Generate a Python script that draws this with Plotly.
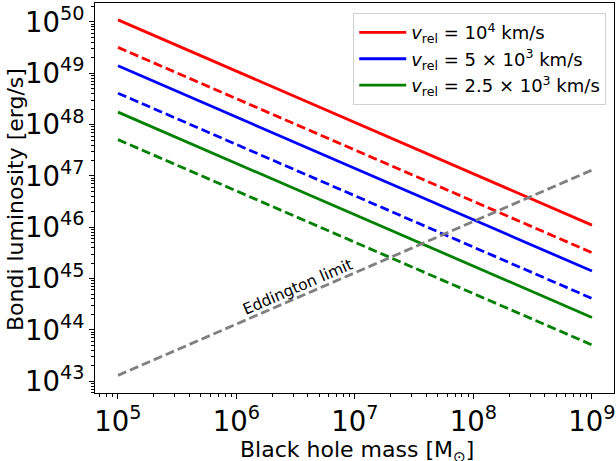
import plotly.graph_objects as go

# Data
mass = [1e5, 1e9]  # black hole mass [M_sun]
red_solid = [1.1e50, 1.1e46]
red_dashed = [3.2e49, 3.2e45]
blue_solid = [1.4e49, 1.4e45]
blue_dashed = [4.1e48, 4.1e44]
green_solid = [1.75e48, 1.75e44]
green_dashed = [5.1e47, 5.1e43]
eddington = [1.3e43, 1.3e47]

labels = [
    "<i>v</i><sub>rel</sub> = 10<sup>4</sup> km/s",
    "<i>v</i><sub>rel</sub> = 5 × 10<sup>3</sup> km/s",
    "<i>v</i><sub>rel</sub> = 2.5 × 10<sup>3</sup> km/s",
]

FONT = "DejaVu Sans"
LW = 2.8
DASH = "9px,4px"

fig = go.Figure()
series = [
    (red_solid, red_dashed, "red", labels[0]),
    (blue_solid, blue_dashed, "blue", labels[1]),
    (green_solid, green_dashed, "green", labels[2]),
]
for solid, dashed, col, lab in series:
    fig.add_trace(go.Scatter(x=mass, y=solid, mode="lines", name=lab,
                             line=dict(color=col, width=LW)))
for solid, dashed, col, lab in series:
    fig.add_trace(go.Scatter(x=mass, y=dashed, mode="lines", showlegend=False,
                             line=dict(color=col, width=LW, dash=DASH)))
fig.add_trace(go.Scatter(x=mass, y=eddington, mode="lines", showlegend=False,
                         line=dict(color="gray", width=LW, dash=DASH)))

fig.add_annotation(x=6.52, y=44.83, xref="x", yref="y", text="Eddington limit",
                   showarrow=False, textangle=-23.4,
                   font=dict(family=FONT, size=15.5, color="black"))

# axis titles as annotations (exact placement)
fig.add_annotation(x=0.505, y=-0.149, xref="paper", yref="paper",
                   text="Black hole mass [M<sub>⊙</sub>]", showarrow=False,
                   xanchor="center", yanchor="middle",
                   font=dict(family=FONT, size=22, color="black"))
fig.add_annotation(x=-0.152, y=0.495, xref="paper", yref="paper",
                   text="Bondi luminosity [erg/s]", showarrow=False,
                   textangle=-90, xanchor="center", yanchor="middle",
                   font=dict(family=FONT, size=22, color="black"))

axis_common = dict(
    type="log", showgrid=False, zeroline=False, automargin=False,
    showline=True, linecolor="black", linewidth=1, mirror=True,
    ticks="outside", ticklen=5, tickwidth=1, tickcolor="black",
    dtick=1, exponentformat="power",
    tickfont=dict(family=FONT, size=22, color="black"),
    minor=dict(ticks="outside", ticklen=3, tickwidth=0.8, tickcolor="black",
               dtick="D1", showgrid=False),
)

fig.update_xaxes(**axis_common, range=[4.806, 9.186])
fig.update_yaxes(**axis_common, range=[42.77, 50.37])

fig.update_layout(
    width=616, height=461,
    margin=dict(l=95, r=2, t=3, b=68),
    plot_bgcolor="white", paper_bgcolor="white",
    font=dict(family=FONT, color="black"),
    hovermode=False,
    legend=dict(x=0.985, y=0.974, xanchor="right", yanchor="top",
                bgcolor="rgba(255,255,255,0.8)", bordercolor="#d0d0d0",
                borderwidth=1, font=dict(family=FONT, size=18, color="black"),
                itemwidth=47, tracegroupgap=0),
)

fig.write_html("out.html",
               config={"displayModeBar": False},
               post_script="document.body.style.margin='0';document.body.style.overflow='hidden';")
